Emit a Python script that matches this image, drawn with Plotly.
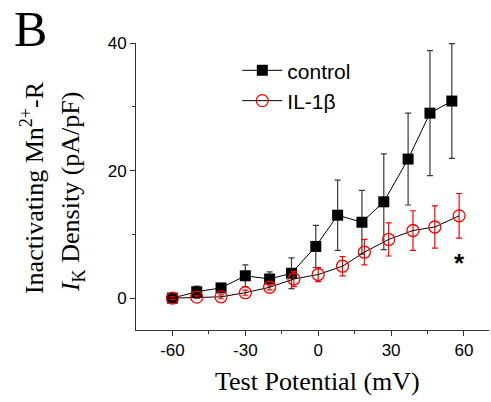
import plotly.graph_objects as go

# Test potentials (mV) for each group
v_control = [-60, -50, -40, -30, -20, -11, -1, 8, 18, 27, 37, 46, 55]
v_il1b = [-60, -50, -40, -30, -20, -10, 0, 10, 19, 29, 39, 48, 58]

# Inactivating Mn2+-resistant IK density (pA/pF), mean and SEM
control_mean = [0.0, 1.0, 1.6, 3.5, 3.0, 3.9, 8.1, 13.0, 11.9, 15.1, 21.8, 29.0, 30.9]
control_sem = [0.2, 0.9, 0.6, 1.7, 1.1, 2.4, 3.3, 5.5, 5.0, 7.5, 7.2, 9.8, 9.0]
il1b_mean = [0.0, 0.15, 0.2, 0.85, 1.7, 3.0, 3.7, 5.0, 7.2, 9.2, 10.6, 11.15, 12.9]
il1b_sem = [0.2, 0.2, 0.3, 0.4, 0.4, 1.2, 1.1, 1.5, 2.0, 2.6, 3.1, 3.3, 3.5]

x_ticks = [-60, -30, 0, 30, 60]
x_labels = ["-60", "-30", "0", "30", "60"]
y_ticks = [0, 20, 40]
y_labels = ["0", "20", "40"]

SERIF = "Liberation Serif"
SANS = "Liberation Sans"

fig = go.Figure()

fig.add_trace(go.Scatter(
    x=v_control, y=control_mean, name="control",
    mode="lines+markers",
    line=dict(color="black", width=1),
    marker=dict(symbol="square", size=11, color="black"),
    error_y=dict(type="data", array=control_sem, visible=True,
                 color="#3a3a3a", thickness=1.2, width=3),
))

fig.add_trace(go.Scatter(
    x=v_il1b, y=il1b_mean, name="IL-1β",
    mode="lines+markers",
    line=dict(color="black", width=1),
    marker=dict(symbol="circle-open", size=12, color="red",
                line=dict(color="red", width=1.3)),
    error_y=dict(type="data", array=il1b_sem, visible=True,
                 color="red", thickness=1.2, width=3),
))

fig.update_layout(
    width=491, height=402,
    margin=dict(l=136, r=2, t=43, b=72),
    paper_bgcolor="white", plot_bgcolor="white",
    showlegend=True,
    legend=dict(x=0.287, y=0.975, xanchor="left", yanchor="top",
                bgcolor="rgba(0,0,0,0)",
                font=dict(family=SANS, size=21, color="black"),
                itemwidth=40, tracegroupgap=0),
    xaxis=dict(range=[-75, 70.3], tickvals=x_ticks, ticktext=x_labels,
               showline=True, linecolor="#333", linewidth=1,
               ticks="outside", ticklen=5, tickcolor="#333",
               minor=dict(tickvals=[-45, -15, 15, 45], ticks="outside",
                          ticklen=3, tickcolor="#333"),
               showgrid=False, zeroline=False,
               tickfont=dict(family=SANS, size=17, color="black")),
    yaxis=dict(range=[-5, 40], tickvals=y_ticks, ticktext=y_labels,
               showline=True, linecolor="#333", linewidth=1,
               ticks="outside", ticklen=5, tickcolor="#333",
               minor=dict(tickvals=[10, 30], ticks="outside",
                          ticklen=3, tickcolor="#333"),
               showgrid=False, zeroline=False,
               tickfont=dict(family=SANS, size=17, color="black")),
)

annotations = [
    dict(text="B", x=-0.30, y=330 / 287, xref="paper", yref="paper",
         xanchor="center", yanchor="top", showarrow=False, borderpad=0,
         font=dict(family=SERIF, size=50, color="black")),
    dict(text="Inactivating Mn<sup>2+</sup>-R", x=-0.2915, y=0.495,
         xref="paper", yref="paper", textangle=-90,
         xanchor="center", yanchor="middle", showarrow=False,
         font=dict(family=SERIF, size=26, color="black")),
    dict(text="<i>I</i><sub>K</sub> Density (pA/pF)", x=-0.181, y=0.481,
         xref="paper", yref="paper", textangle=-90,
         xanchor="center", yanchor="middle", showarrow=False,
         font=dict(family=SERIF, size=26, color="black")),
    dict(text="Test Potential (mV)", x=0.515, y=-0.181,
         xref="paper", yref="paper",
         xanchor="center", yanchor="middle", showarrow=False,
         font=dict(family=SERIF, size=26, color="black")),
    dict(text="<b>*</b>", x=58.2, y=5.5, xref="x", yref="y",
         xanchor="center", yanchor="middle", showarrow=False,
         font=dict(family=SANS, size=26, color="black")),
]
fig.update_layout(annotations=annotations)

fig.write_html("out.html")
